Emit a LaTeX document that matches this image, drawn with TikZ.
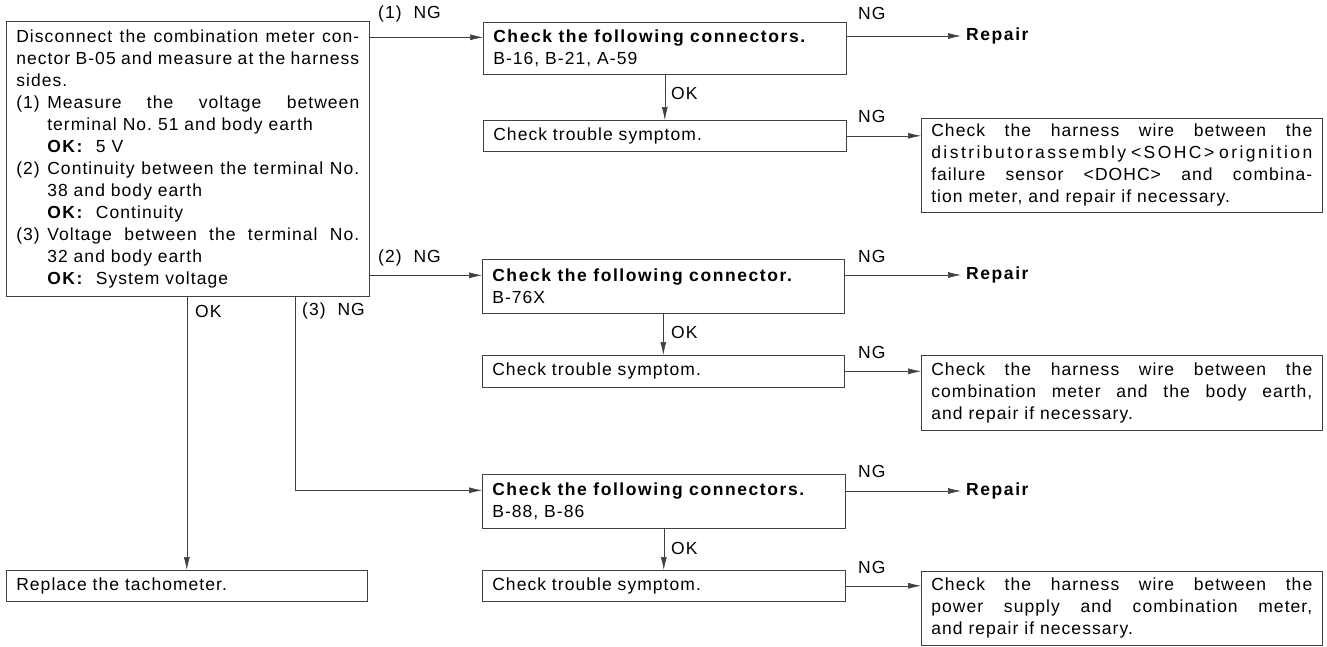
\documentclass[tikz,border=0pt]{standalone}
\usepackage{fontspec}
\setmainfont{Liberation Sans}[LetterSpace=6,BoldFeatures={LetterSpace=9}]
\usetikzlibrary{arrows.meta}
\newcommand{\boxfont}{\fontsize{17.5pt}{22pt}\selectfont}
\newcommand{\itm}[2]{{\hangindent=31pt\hangafter=1\noindent\makebox[31pt][l]{#1}#2\par}}
\begin{document}
\begin{tikzpicture}[x=1pt,y=-1pt,
  box/.style={draw=black!75,line width=.6pt,anchor=north west,inner xsep=10pt,inner ysep=0pt,align=justify,font=\boxfont},
  lbl/.style={anchor=west,inner sep=0pt,font=\boxfont},
  arr/.style={draw=black!75,line width=.6pt,-{Latex[length=13pt,width=6pt]}},
  ln/.style={draw=black!75,line width=.6pt}]
\useasboundingbox (0,0) rectangle (1327,646);
% main check
\node[box,text width=343pt,minimum height=275pt] (main) at (6,21) {%
{\spaceskip=.2em plus .6em minus .1em
Disconnect the combination meter con-\linebreak nector B-05 and measure at the harness\linebreak sides.\par}
\itm{(1)}{Measure the voltage between\linebreak terminal No.~51 and body earth\newline\textbf{OK:}~~5~V}
\itm{(2)}{Continuity between the terminal No.\linebreak 38 and body earth\newline\textbf{OK:}~~Continuity}
\itm{(3)}{Voltage between the terminal No.\linebreak 32 and body earth\newline\textbf{OK:}~~System voltage}};
\node[box,text width=341pt,minimum height=31pt] (repl) at (6,570) {Replace the tachometer.};
% branch (1)
\node[box,text width=343pt,minimum height=52pt] (chk1) at (483,22) {\textbf{Check the following connectors.}\\B-16, B-21, A-59};
\node[box,text width=343pt,minimum height=31pt] (sym1) at (483,120) {Check trouble symptom.};
\node[box,text width=381pt,minimum height=94pt] (har1) at (921,118) {Check the harness wire between the\linebreak {\addfontfeatures{LetterSpace=14}distributorassembly\hspace{1pt plus 10pt}<SOHC>\hspace{1pt plus 10pt}orignition}\linebreak failure sensor <DOHC> and combina-\linebreak tion meter, and repair if necessary.};
\node[lbl,font=\boxfont\bfseries] (rep1) at (966,36) {Repair};
% branch (2)
\node[box,text width=342pt,minimum height=54pt] (chk2) at (482,259) {\textbf{Check the following connector.}\\B-76X};
\node[box,text width=342pt,minimum height=32pt] (sym2) at (482,355) {Check trouble symptom.};
\node[box,text width=381pt,minimum height=75pt] (har2) at (921,355) {Check the harness wire between the\linebreak combination meter and the body earth,\linebreak and repair if necessary.};
\node[lbl,font=\boxfont\bfseries] (rep2) at (966,275) {Repair};
% branch (3)
\node[box,text width=343pt,minimum height=54pt] (chk3) at (482,474) {\textbf{Check the following connectors.}\\B-88, B-86};
\node[box,text width=343pt,minimum height=31pt] (sym3) at (482,570) {Check trouble symptom.};
\node[box,text width=381pt,minimum height=74pt] (har3) at (921,571) {Check the harness wire between the\linebreak power supply and combination meter,\linebreak and repair if necessary.};
\node[lbl,font=\boxfont\bfseries] (rep3) at (966,491) {Repair};
% entry points
\coordinate (in1) at ([yshift=11pt]chk1.west);
\coordinate (in2) at ([yshift=11pt]chk2.west);
\coordinate (in3) at ([yshift=11pt]chk3.west);
\coordinate (drop3) at (295,296);
% connectors
\draw[arr] (main.east |- in1) -- (in1);
\draw[arr] (main.east |- in2) -- (in2);
\draw[arr] (drop3) |- (in3);
\draw[arr] (main.south -| repl.north) -- (repl.north);
\draw[arr,shorten >=5pt] (chk1.east |- rep1) -- (rep1.west);
\draw[arr,shorten >=5pt] (chk2.east |- rep2) -- (rep2.west);
\draw[arr,shorten >=5pt] (chk3.east |- rep3) -- (rep3.west);
\draw[arr] (chk1.south) -- (sym1.north);
\draw[arr] (chk2.south) -- (sym2.north);
\draw[arr] (chk3.south) -- (sym3.north);
\draw[arr] (sym1.east) -- (har1.west |- sym1.east);
\draw[arr] (sym2.east) -- (har2.west |- sym2.east);
\draw[arr] (sym3.east) -- (har3.west |- sym3.east);
% labels
\node[lbl] (ng1) at (378,14) {(1)~~NG};
\node[lbl] (ng2) at (378,258) {(2)~~NG};
\node[lbl] (ng3) at (302,311) {(3)~~NG};
\node[lbl] (okm) at (195,311) {OK};
\node[lbl] (ok1) at (671,93) {OK};
\node[lbl] (ok2) at (671,332) {OK};
\node[lbl] (ok3) at (671,548) {OK};
\node[lbl] (ngr1) at (858,13) {NG};
\node[lbl] (ngh1) at (858,116) {NG};
\node[lbl] (ngr2) at (858,256) {NG};
\node[lbl] (ngh2) at (858,352) {NG};
\node[lbl] (ngr3) at (858,471) {NG};
\node[lbl] (ngh3) at (858,567) {NG};
\end{tikzpicture}
\end{document}
